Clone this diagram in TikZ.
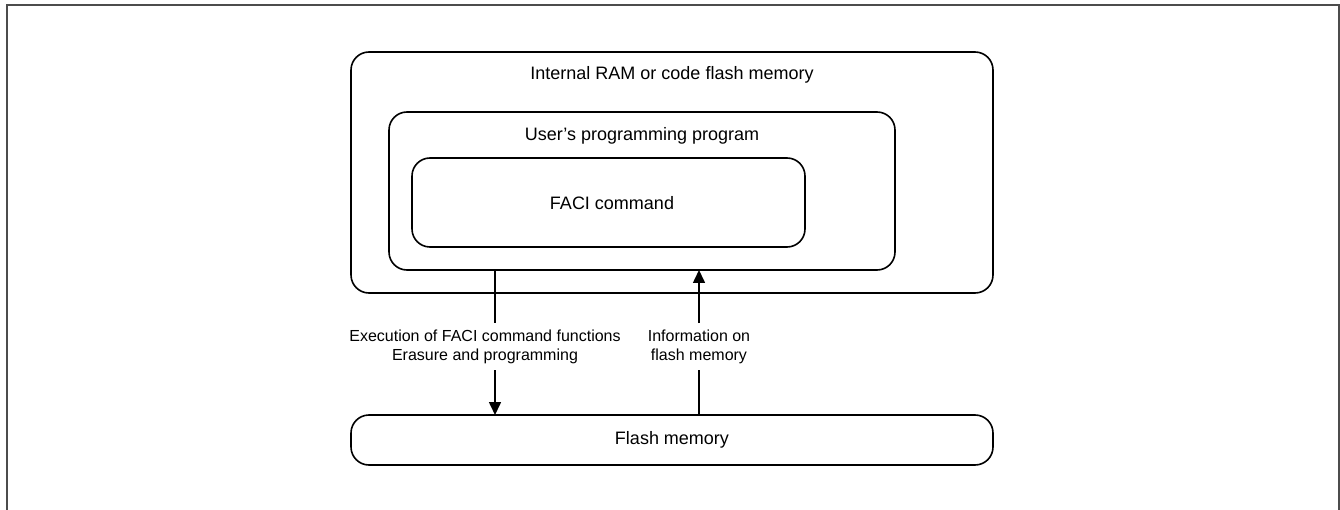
\documentclass[tikz,border=0pt]{standalone}
\usepackage{fontspec}
\setmainfont{Liberation Sans}
\usetikzlibrary{arrows.meta}
\begin{document}
\begin{tikzpicture}[x=1pt,y=-1pt,
  box/.style={draw=black,line width=1.6pt,rounded corners=18pt},
  ttl/.style={font=\fontsize{18}{21}\selectfont,inner sep=0pt},
  lbl/.style={font=\fontsize{16}{19}\selectfont,align=center,inner sep=0pt},
  arr/.style={line width=1.6pt,-{Triangle[length=13pt,width=12pt]}},
  ln/.style={line width=1.6pt}]
\useasboundingbox (0,0) rectangle (1340,510);
\draw[draw=black!70,line width=2pt] (7,520) -- (7,5) -- (1339,5) -- (1339,520);
% boxes
\draw[box] (351,52) rectangle (993,293);
\node[ttl] (t1) at (672,75) {Internal RAM or code flash memory};
\draw[box] (389,112) rectangle (895,270);
\node[ttl] (t2) at (642,136) {User’s programming program};
\draw[box] (412,158) rectangle (805,247);
\node[ttl] (t3) at (612,203) {FACI command};
\draw[box] (351,415) rectangle (993,465);
\node[ttl] (t4) at (672,440) {Flash memory};
% labels
\node[lbl] (l1) at (485,346.5) {Execution of FACI command functions\\Erasure and programming};
\node[lbl] (l2) at (699,346.5) {Information on\\flash memory};
% connectors
\coordinate (a1s) at (495,270);
\coordinate (a1m) at (495,323);
\coordinate (a1n) at (495,370);
\coordinate (a1e) at (495,415);
\draw[ln] (a1s) -- (a1m);
\draw[arr] (a1n) -- (a1e);
\coordinate (a2s) at (699,415);
\coordinate (a2m) at (699,370);
\coordinate (a2n) at (699,323);
\coordinate (a2e) at (699,270);
\draw[ln] (a2s) -- (a2m);
\draw[arr] (a2n) -- (a2e);
\end{tikzpicture}
\end{document}
